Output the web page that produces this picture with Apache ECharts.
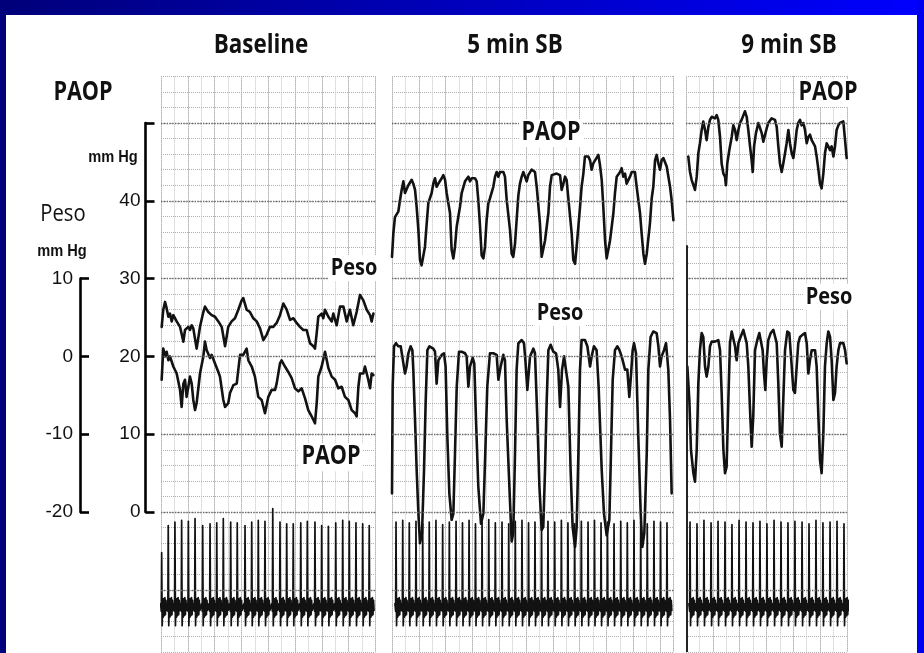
<!DOCTYPE html>
<html>
<head>
<meta charset="utf-8">
<script src="https://cdn.jsdelivr.net/npm/echarts@6/dist/echarts.min.js"></script>
<style>
  html, body { margin: 0; padding: 0; background: #fff; }
  #chart { width: 924px; height: 653px; }
</style>
</head>
<body>
<div id="chart"></div>
<script>
// ---------------- recorded values ----------------
// Panel titles and recording length of each strip (s)
const panelTitles = ['Baseline', '5 min SB', '9 min SB'];
const panelSeconds = [16, 21, 12];

// Scale ticks of the two pressure calibrations (mm Hg)
const paopTicks = [0, 10, 20, 30, 40, 50];
const pesoTicks = [-20, -10, 0, 10];

// Baseline: esophageal pressure (Peso) and wedge pressure (PAOP), [time s, mm Hg]
const pesoBaseline = [[0.05,3.8],[0.17,6.0],[0.30,7.0],[0.42,6.2],[0.55,5.1],[0.67,5.5],[0.80,4.5],[0.92,5.3],[1.17,4.5],[1.42,3.8],[1.67,1.9],[1.79,3.4],[2.04,3.8],[2.16,3.4],[2.29,4.0],[2.41,3.6],[2.66,1.0],[2.91,3.8],[3.16,5.7],[3.28,6.4],[3.53,5.7],[3.78,5.3],[4.03,5.1],[4.28,4.5],[4.53,3.8],[4.78,1.3],[5.02,3.8],[5.27,4.5],[5.52,4.9],[5.77,6.0],[6.02,7.2],[6.14,7.5],[6.39,6.0],[6.64,5.7],[6.89,4.9],[7.14,4.5],[7.39,3.6],[7.64,2.1],[7.89,2.8],[8.13,3.8],[8.38,3.8],[8.63,4.3],[8.88,5.3],[9.13,6.8],[9.38,6.0],[9.63,4.7],[9.88,4.9],[10.12,4.3],[10.37,3.8],[10.62,3.4],[10.87,3.4],[11.12,1.7],[11.37,1.3],[11.49,1.0],[11.62,3.0],[11.74,5.1],[11.99,5.5],[12.11,4.9],[12.24,6.0],[12.49,5.1],[12.74,4.5],[12.86,5.5],[13.11,4.0],[13.36,6.4],[13.61,6.4],[13.86,4.5],[14.10,6.0],[14.35,4.0],[14.60,5.7],[14.85,7.9],[15.10,7.2],[15.35,6.0],[15.60,5.3],[15.72,4.5],[15.85,5.5]];
const paopBaseline = [[0.05,17.0],[0.17,21.0],[0.30,20.0],[0.42,20.6],[0.55,19.5],[0.67,20.0],[0.92,18.7],[1.17,17.8],[1.42,15.7],[1.54,13.5],[1.67,16.5],[1.79,17.0],[1.91,14.8],[2.04,16.1],[2.16,17.4],[2.29,16.5],[2.41,14.4],[2.54,13.1],[2.66,14.0],[2.91,17.8],[3.16,20.0],[3.28,21.9],[3.41,20.8],[3.66,19.8],[3.78,20.2],[4.03,19.1],[4.28,18.0],[4.40,17.4],[4.65,14.4],[4.78,13.5],[5.02,14.0],[5.15,15.3],[5.40,16.3],[5.65,16.5],[5.77,18.3],[5.90,20.2],[6.14,20.2],[6.39,21.0],[6.52,19.5],[6.77,18.7],[7.01,17.4],[7.26,14.8],[7.51,14.4],[7.76,12.7],[8.01,14.8],[8.26,15.7],[8.51,15.7],[8.63,16.5],[8.88,19.1],[9.00,19.5],[9.25,18.7],[9.50,18.0],[9.75,17.2],[10.00,15.9],[10.25,15.5],[10.50,15.9],[10.75,14.6],[10.99,13.1],[11.24,12.3],[11.49,11.4],[11.62,14.0],[11.74,17.4],[11.99,18.7],[12.24,20.6],[12.49,18.5],[12.74,17.4],[12.99,17.0],[13.23,15.9],[13.48,16.1],[13.73,14.8],[13.98,14.4],[14.23,13.1],[14.48,12.7],[14.60,12.3],[14.73,16.1],[14.85,17.8],[15.10,17.8],[15.22,18.7],[15.47,17.0],[15.60,15.9],[15.72,17.8],[15.85,17.6]];

// 5 min of spontaneous breathing
const paopSB5 = [[0.00,32.8],[0.10,35.8],[0.22,37.9],[0.47,38.6],[0.60,40.1],[0.72,41.4],[0.85,42.5],[0.97,41.0],[1.09,41.2],[1.22,42.0],[1.47,42.7],[1.59,42.2],[1.72,41.4],[1.84,39.2],[1.97,36.2],[2.09,32.4],[2.21,31.7],[2.34,31.9],[2.46,34.1],[2.59,37.1],[2.71,39.7],[2.96,41.0],[3.08,42.2],[3.21,42.9],[3.33,41.8],[3.46,42.2],[3.71,42.9],[3.83,43.3],[3.96,42.7],[4.08,41.0],[4.33,38.4],[4.45,33.7],[4.58,32.6],[4.70,34.1],[4.83,36.7],[5.07,39.2],[5.20,41.0],[5.45,42.5],[5.70,43.1],[5.82,42.5],[5.95,42.9],[6.19,42.9],[6.32,42.5],[6.44,40.1],[6.57,36.7],[6.69,33.0],[6.82,32.6],[6.94,34.1],[7.06,37.5],[7.19,39.7],[7.31,40.3],[7.56,41.8],[7.69,43.1],[7.81,43.7],[7.94,43.1],[8.06,43.7],[8.31,43.7],[8.43,43.1],[8.56,40.1],[8.81,36.2],[8.93,33.2],[9.05,32.8],[9.18,34.5],[9.30,37.5],[9.43,40.7],[9.55,42.2],[9.68,43.1],[9.80,43.7],[9.93,43.5],[10.05,42.5],[10.17,43.3],[10.42,44.0],[10.67,43.7],[10.80,41.8],[11.04,37.1],[11.17,32.8],[11.29,32.6],[11.42,34.9],[11.67,38.4],[11.79,41.8],[11.92,43.3],[12.04,43.5],[12.29,43.5],[12.54,43.3],[12.66,41.4],[12.79,42.2],[12.91,43.1],[13.03,42.7],[13.16,40.3],[13.41,35.8],[13.53,32.4],[13.66,31.9],[13.78,34.1],[13.91,36.7],[14.03,39.2],[14.15,41.8],[14.28,43.5],[14.40,45.7],[14.65,45.7],[14.78,45.2],[14.90,44.0],[15.02,44.8],[15.15,44.8],[15.40,45.9],[15.52,44.6],[15.65,42.7],[15.77,39.2],[15.90,34.9],[16.02,32.6],[16.14,32.8],[16.27,34.9],[16.52,38.4],[16.64,41.0],[16.77,43.1],[17.02,43.7],[17.14,44.2],[17.26,43.1],[17.39,43.5],[17.51,42.2],[17.76,43.1],[17.89,43.7],[18.13,43.7],[18.26,41.8],[18.51,38.4],[18.63,35.8],[18.76,33.2],[18.88,31.9],[19.01,33.2],[19.25,37.1],[19.38,40.3],[19.50,41.8],[19.63,45.2],[19.75,45.9],[19.88,44.8],[20.00,44.0],[20.12,45.2],[20.25,45.5],[20.50,44.4],[20.75,41.8],[20.87,40.1],[21.00,37.5]];
const pesoSB5 = [[0.00,-17.6],[0.05,-3.9],[0.15,1.3],[0.30,1.7],[0.47,1.3],[0.65,1.3],[0.85,-0.9],[0.97,-2.2],[1.09,-1.3],[1.22,0.4],[1.39,1.3],[1.52,0.8],[1.59,-1.7],[1.72,-8.2],[1.84,-14.6],[1.97,-20.2],[2.09,-24.0],[2.24,-22.7],[2.39,-14.6],[2.51,-6.0],[2.64,0.8],[2.79,1.3],[3.08,1.0],[3.21,0.6],[3.33,-3.5],[3.46,-0.5],[3.71,0.2],[3.88,0.4],[4.00,-1.3],[4.13,-10.3],[4.28,-17.6],[4.45,-21.0],[4.58,-20.2],[4.70,-12.5],[4.83,-3.9],[5.00,0.6],[5.20,0.6],[5.45,0.4],[5.57,0.0],[5.70,-3.9],[5.82,-1.3],[6.02,-0.2],[6.14,-0.9],[6.27,-8.2],[6.44,-16.7],[6.64,-21.5],[6.82,-20.2],[6.96,-12.5],[7.11,-3.9],[7.31,0.4],[7.56,0.4],[7.81,0.2],[7.94,-3.0],[8.11,-1.3],[8.31,0.2],[8.43,-0.5],[8.56,-8.2],[8.76,-16.7],[8.93,-23.8],[9.05,-22.7],[9.18,-12.5],[9.30,-1.7],[9.43,1.7],[9.68,2.1],[9.85,1.7],[9.97,-0.9],[10.10,-4.3],[10.30,0.0],[10.55,1.0],[10.67,0.4],[10.85,-8.2],[11.00,-16.7],[11.17,-22.3],[11.29,-21.9],[11.42,-14.6],[11.54,-6.0],[11.67,0.8],[11.84,1.5],[12.04,0.6],[12.24,0.4],[12.41,-1.7],[12.54,-6.5],[12.69,-1.7],[12.84,0.0],[12.98,0.2],[13.16,-3.9],[13.33,-14.6],[13.48,-21.9],[13.66,-24.5],[13.78,-21.9],[13.91,-12.5],[14.03,-1.7],[14.15,2.1],[14.40,2.1],[14.58,1.3],[14.78,-1.3],[14.90,0.0],[15.07,1.3],[15.27,0.8],[15.42,-3.9],[15.65,-14.6],[15.82,-20.2],[16.02,-23.0],[16.22,-21.0],[16.34,-12.5],[16.47,-3.0],[16.64,0.8],[16.82,1.3],[16.97,0.8],[17.14,0.0],[17.39,-1.7],[17.56,-1.7],[17.71,-5.2],[17.81,-3.0],[17.96,0.8],[18.06,1.7],[18.21,0.4],[18.38,-10.3],[18.56,-20.2],[18.68,-24.5],[18.83,-22.7],[19.01,-12.5],[19.13,-1.7],[19.30,2.5],[19.50,3.2],[19.75,3.0],[19.88,1.3],[20.00,-1.3],[20.12,0.0],[20.30,0.8],[20.45,1.7],[20.62,-1.7],[20.75,-8.2],[20.87,-17.6]];

// 9 min of spontaneous breathing
const paopSB9 = [[0.17,45.7],[0.30,43.7],[0.42,42.7],[0.67,41.4],[0.80,43.1],[0.92,46.1],[1.04,47.4],[1.17,49.1],[1.29,50.2],[1.42,49.1],[1.54,47.8],[1.67,49.5],[1.79,50.4],[1.92,50.8],[2.04,51.0],[2.16,50.6],[2.29,51.0],[2.41,50.4],[2.54,48.2],[2.66,44.8],[2.79,43.5],[2.91,43.1],[2.98,42.0],[3.08,44.8],[3.23,46.5],[3.41,48.2],[3.53,49.7],[3.66,49.1],[3.78,47.8],[3.91,49.1],[4.03,50.0],[4.15,50.4],[4.28,50.6],[4.40,51.5],[4.53,50.8],[4.65,49.1],[4.78,47.0],[4.90,45.2],[4.98,43.7],[5.08,47.0],[5.22,48.7],[5.40,50.0],[5.52,50.2],[5.65,48.7],[5.77,47.6],[5.90,47.4],[6.02,49.3],[6.14,50.0],[6.27,50.2],[6.39,50.6],[6.52,50.8],[6.64,50.4],[6.77,49.5],[6.89,47.0],[7.01,44.8],[7.14,43.7],[7.26,44.8],[7.39,46.1],[7.51,47.4],[7.64,49.1],[7.76,47.4],[7.89,46.1],[8.01,45.5],[8.13,47.0],[8.26,49.1],[8.38,50.0],[8.51,50.4],[8.63,49.7],[8.76,50.0],[8.88,49.1],[9.01,47.4],[9.13,48.2],[9.25,48.5],[9.38,47.8],[9.50,47.8],[9.63,47.0],[9.75,45.7],[9.88,44.0],[10.00,42.2],[10.12,41.6],[10.25,43.5],[10.37,46.1],[10.50,47.4],[10.62,47.0],[10.75,46.5],[10.87,47.0],[11.00,45.7],[11.12,47.0],[11.24,49.1],[11.37,49.7],[11.49,50.0],[11.62,50.0],[11.74,50.2],[11.87,47.8],[11.99,45.5]];
const pesoSB9 = [[0.10,-1.3],[0.25,-5.6],[0.37,-12.0],[0.55,-15.0],[0.67,-16.1],[0.80,-12.0],[0.92,-3.5],[1.04,0.8],[1.17,3.0],[1.29,2.5],[1.42,-1.3],[1.54,-2.6],[1.67,-1.3],[1.79,1.3],[1.92,1.9],[2.16,1.9],[2.41,2.1],[2.54,0.8],[2.66,-4.7],[2.79,-12.0],[2.91,-15.0],[3.03,-14.2],[3.16,-5.6],[3.28,1.7],[3.41,3.2],[3.53,3.2],[3.66,1.3],[3.78,-0.5],[3.91,1.7],[4.03,2.3],[4.28,3.4],[4.40,3.6],[4.53,1.7],[4.65,-1.3],[4.78,-6.9],[4.90,-11.6],[5.02,-7.7],[5.15,0.8],[5.32,2.1],[5.47,3.0],[5.60,3.2],[5.72,0.8],[5.82,-2.2],[5.92,-4.3],[6.02,-0.5],[6.14,2.1],[6.32,3.0],[6.52,3.4],[6.64,3.2],[6.77,1.7],[6.89,-3.5],[7.01,-9.9],[7.14,-11.6],[7.26,-5.6],[7.39,0.8],[7.56,3.2],[7.71,3.0],[7.89,-1.3],[8.01,-4.3],[8.13,-4.7],[8.26,-1.3],[8.38,1.7],[8.51,2.5],[8.71,2.8],[8.88,3.0],[9.01,1.7],[9.13,-2.2],[9.25,-0.5],[9.38,0.8],[9.50,1.0],[9.63,0.8],[9.75,-1.3],[9.88,-7.7],[10.00,-13.3],[10.12,-15.0],[10.25,-9.9],[10.37,-1.3],[10.50,1.7],[10.62,3.2],[10.75,2.5],[10.87,-0.5],[11.00,-5.6],[11.12,-4.7],[11.24,-1.3],[11.37,0.8],[11.49,1.7],[11.74,1.7],[11.87,0.8],[11.99,-0.9]];

// ECG: R-wave times (s) and R amplitudes (mV) of each strip
const ecgBaselineBeats = [0.05,0.54,1.04,1.54,2.04,2.54,3.11,3.66,4.16,4.65,5.20,5.69,6.27,6.77,7.26,7.76,8.34,8.88,9.38,9.87,10.43,10.92,11.49,11.99,12.49,13.04,13.56,14.05,14.55,15.05,15.54];
const ecgBaselineAmp = [0.64,0.96,1.0,1.02,1.01,1.04,0.96,0.98,0.99,1.04,1.0,0.99,0.96,1.0,1.02,1.01,1.16,1.0,0.98,0.98,0.99,1.01,1.0,0.96,0.95,0.99,1.02,1.01,0.99,0.98,0.96];
const ecgSB5Beats = [0.30,0.80,1.29,1.79,2.29,2.78,3.28,3.78,4.28,4.78,5.26,5.75,6.23,6.72,7.22,7.71,8.21,8.71,9.20,9.70,10.19,10.67,11.16,11.64,12.14,12.64,13.13,13.63,14.13,14.63,15.11,15.60,16.08,16.57,17.07,17.56,18.06,18.56,19.05,19.55,20.04,20.52];
const ecgSB5Amp = [1.0,1.02,0.99,1.01,0.98,1.0,1.02,0.97,1.0,1.01,0.99,1.02,0.98,1.0,1.03,0.99,1.0,0.98,1.01,1.02,0.99,1.0,0.97,1.01,1.0,1.02,0.99,0.98,1.01,1.0,1.02,0.99,1.0,0.98,1.01,0.99,1.02,1.0,0.98,1.01,1.0,0.99];
const ecgSB9Beats = [0.30,0.82,1.34,1.87,2.39,2.91,3.43,3.96,4.48,5.00,5.52,6.04,6.57,7.09,7.61,8.13,8.66,9.18,9.70,10.22,10.75,11.27,11.79];
const ecgSB9Amp = [1.0,0.98,1.02,0.99,1.01,1.0,0.97,1.02,1.0,0.99,1.01,0.98,1.02,1.0,0.99,1.01,1.0,0.98,1.02,0.99,1.0,1.01,0.98];

// Level (mm Hg) where the paper-edge marker of the 9 min strip starts
const sb9EdgeTop = 34.3;

// ---------------- layout ----------------
const PX_PER_S = 13.4;       // chart speed on the page
const PX_PER_MMHG = 7.78;    // pressure gain on the page
const ZERO_Y = 512;          // page row of PAOP 0 mm Hg
const panelLeft = [161, 392, 686];
const PAOP_MIN = -18, PAOP_MAX = 56;   // vertical span of every strip (PAOP units)
const PESO_OFFSET = 20;                // Peso 0 sits on PAOP 20
const ECG_MIN = -0.53, ECG_MAX = 6.25;

// one heartbeat complex: [offset from R (s), mV]; the R point takes the beat amplitude
const qrsTemplate = [[-0.08, 0.04], [-0.03, -0.05], [0, 'R'], [0.04, -0.22], [0.08, 0.1], [0.12, -0.12], [0.16, 0.1], [0.2, -0.1], [0.24, 0.11], [0.28, -0.09], [0.32, 0.08], [0.36, -0.04]];
function ecgTrace(beats, amps) {
  const pts = [];
  beats.forEach((t, i) => qrsTemplate.forEach(([dt, v]) => pts.push([+(t + dt).toFixed(3), v === 'R' ? amps[i] : v])));
  return pts;
}

const strips = [
  { paop: paopBaseline, peso: pesoBaseline, ecg: ecgTrace(ecgBaselineBeats, ecgBaselineAmp) },
  { paop: paopSB5, peso: pesoSB5, ecg: ecgTrace(ecgSB5Beats, ecgSB5Amp) },
  { paop: paopSB9, peso: pesoSB9, ecg: ecgTrace(ecgSB9Beats, ecgSB9Amp) }
];

const INK = '#121212';
const hidden = { axisLine: { show: false }, axisTick: { show: false }, axisLabel: { show: false } };

const grid = [], xAxis = [], yAxis = [], series = [];
const stripTop = ZERO_Y - PAOP_MAX * PX_PER_MMHG;
const stripHeight = (PAOP_MAX - PAOP_MIN) * PX_PER_MMHG;

strips.forEach((s, p) => {
  grid.push({ left: panelLeft[p], top: stripTop, width: panelSeconds[p] * PX_PER_S, height: stripHeight });
  // paper: fine vertical rulings every 1 s, heavier every 2 s
  xAxis.push(Object.assign({ type: 'value', gridIndex: p, min: 0, max: panelSeconds[p], interval: 1,
    splitLine: { show: true, lineStyle: { color: '#c2c2c2', type: 'dotted', width: 1 } } }, hidden));
  xAxis.push(Object.assign({ type: 'value', gridIndex: p, min: 0, max: panelSeconds[p], interval: 2,
    splitLine: { show: true, lineStyle: { color: '#a6a6a6', type: 'dotted', width: 1 } } }, hidden));
  // PAOP scale with 2 mm Hg paper rulings
  yAxis.push(Object.assign({ type: 'value', gridIndex: p, min: PAOP_MIN, max: PAOP_MAX, interval: 2,
    splitLine: { show: true, lineStyle: { color: '#b0b0b0', type: 'dotted', width: 1 } } }, hidden));
  // Peso scale
  yAxis.push(Object.assign({ type: 'value', gridIndex: p, min: PAOP_MIN - PESO_OFFSET, max: PAOP_MAX - PESO_OFFSET,
    splitLine: { show: false } }, hidden));
  // ECG scale
  yAxis.push(Object.assign({ type: 'value', gridIndex: p, min: ECG_MIN, max: ECG_MAX,
    splitLine: { show: false } }, hidden));

  // heavier paper rulings every 10 mm Hg
  series.push({ type: 'line', xAxisIndex: 2 * p, yAxisIndex: 3 * p, data: [], z: 1, silent: true,
    markLine: { silent: true, symbol: 'none', animation: false, label: { show: false },
      lineStyle: { color: '#6a6a6a', type: 'dotted', width: 1.4 },
      data: [-10, ...paopTicks].map(v => ({ yAxis: v })) } });

  const lineOpts = (data, yIdx, width) => ({
    type: 'line', xAxisIndex: 2 * p, yAxisIndex: yIdx, data, symbol: 'none', showSymbol: false,
    animation: false, z: 3, lineStyle: { color: INK, width, join: 'round', cap: 'round' }
  });
  series.push(Object.assign({ name: 'PAOP' }, lineOpts(s.paop, 3 * p, 2.6)));
  series.push(Object.assign({ name: 'Peso' }, lineOpts(s.peso, 3 * p + 1, 2.6)));
  series.push(Object.assign({ name: 'ECG' }, lineOpts(s.ecg, 3 * p + 2, 1.7)));
});

// paper edge marker on the 9 min strip
series.push({ type: 'line', xAxisIndex: 4, yAxisIndex: 6, data: [], z: 4, silent: true,
  markLine: { silent: true, symbol: 'none', animation: false, label: { show: false },
    lineStyle: { color: '#222', type: 'solid', width: 2 },
    data: [[{ coord: [0.07, sb9EdgeTop] }, { coord: [0.07, PAOP_MIN] }]] } });

// calibration scales on the left
const scaleLabel = { fontFamily: 'Liberation Sans', fontSize: 19, color: '#111' };
const scaleAxis = (gridIndex, min, max, margin, fmt) => ({
  type: 'value', gridIndex, min, max, interval: 10, position: 'left',
  axisLine: { show: true, lineStyle: { color: '#000', width: 2.6 } },
  axisTick: { show: true, inside: true, length: 9, lineStyle: { color: '#000', width: 2.6 } },
  axisLabel: Object.assign({ margin, showMinLabel: true, showMaxLabel: true, formatter: fmt }, scaleLabel),
  splitLine: { show: false }
});
grid.push({ left: 145.5, top: ZERO_Y - paopTicks[paopTicks.length - 1] * PX_PER_MMHG,
  height: paopTicks[paopTicks.length - 1] * PX_PER_MMHG, width: 20 });
grid.push({ left: 80, top: ZERO_Y - (pesoTicks[pesoTicks.length - 1] + PESO_OFFSET) * PX_PER_MMHG,
  height: (pesoTicks[pesoTicks.length - 1] - pesoTicks[0]) * PX_PER_MMHG, width: 20 });
xAxis.push({ type: 'value', gridIndex: 3, show: false });
xAxis.push({ type: 'value', gridIndex: 4, show: false });
yAxis.push(scaleAxis(3, paopTicks[0], paopTicks[paopTicks.length - 1], 5,
  v => (v === paopTicks[paopTicks.length - 1] ? '' : String(v))));
yAxis.push(scaleAxis(4, pesoTicks[0], pesoTicks[pesoTicks.length - 1], 7, v => String(v)));

// ---------------- text and frame ----------------
function label(text, x, y, font, opts) {
  return Object.assign({
    type: 'text', x, y, z: 50, scaleX: 0.83,
    style: Object.assign({ text, font, fill: '#111', textAlign: 'center', textVerticalAlign: 'middle',
      align: 'center', verticalAlign: 'middle' }, (opts && opts.style) || {})
  }, (opts && opts.el) || {});
}
const boxed = { style: { backgroundColor: '#fff', padding: [1, 3] } };
const titleFont = 'bold 27px "Open Sans"';
const tagFontP = 'bold 26px "Open Sans"';
const tagFontE = 'bold 24px "Open Sans"';
const unitFont = 'bold 17px "Liberation Sans"';

const graphic = [
  // slide frame
  { type: 'rect', z: 100, shape: { x: 0, y: 0, width: 924, height: 15 },
    style: { fill: new echarts.graphic.LinearGradient(0, 0, 1, 0, [{ offset: 0, color: '#00007a' }, { offset: 1, color: '#0000ff' }]) } },
  { type: 'rect', z: 100, shape: { x: 0, y: 0, width: 6, height: 653 }, style: { fill: '#00007a' } },
  { type: 'rect', z: 100, shape: { x: 917, y: 0, width: 7, height: 653 }, style: { fill: '#0000f0' } },
  // strip titles
  label(panelTitles[0], 261, 45, titleFont),
  label(panelTitles[1], 515, 45, titleFont),
  label(panelTitles[2], 789, 45, titleFont),
  // scale captions
  label('PAOP', 83, 93, tagFontP),
  label('Peso', 63, 214, '23px "Open Sans"', { el: { scaleX: 0.88 } }),
  label('mm Hg', 62, 251, unitFont, { el: { scaleX: 0.86 } }),
  label('mm Hg', 113, 157, unitFont, { el: { scaleX: 0.86 } }),
  // trace tags
  label('Peso', 354, 268, tagFontE, boxed),
  label('PAOP', 331, 457, tagFontP, boxed),
  label('PAOP', 551, 133, tagFontP, boxed),
  label('Peso', 560, 313, tagFontE, boxed),
  label('PAOP', 828, 93, tagFontP, boxed),
  label('Peso', 829, 297, tagFontE, boxed)
];

const chart = echarts.init(document.getElementById('chart'), null, { renderer: 'canvas' });
chart.setOption({
  backgroundColor: '#fff',
  animation: false,
  grid, xAxis, yAxis, series, graphic
});
</script>
</body>
</html>
